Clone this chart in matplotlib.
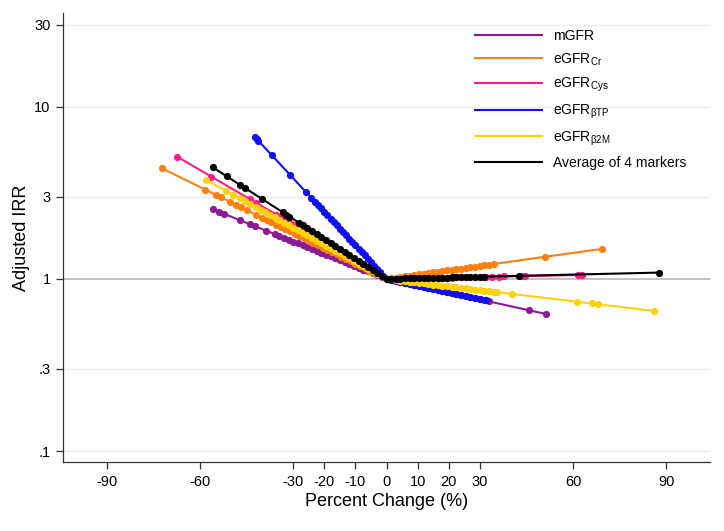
import matplotlib
matplotlib.use("Agg")
import matplotlib.pyplot as plt
from matplotlib.ticker import FixedLocator, FixedFormatter, NullLocator

plt.rcParams['font.family'] = ['Liberation Sans', 'DejaVu Sans']
plt.rcParams['mathtext.fontset'] = 'custom'
plt.rcParams['mathtext.rm'] = 'Liberation Sans'
plt.rcParams['mathtext.it'] = 'Liberation Sans:italic'
plt.rcParams['axes.unicode_minus'] = False

# ---------------- data ----------------
labels = ["mGFR", r"eGFR$_{\mathrm{Cr}}$", r"eGFR$_{\mathrm{Cys}}$",
          r"eGFR$_{\mathrm{βTP}}$", r"eGFR$_{\mathrm{β2M}}$", "Average of 4 markers"]
colors = ["#8B1A96", "#FF8011", "#FF1C8A", "#1010F0", "#FFD20A", "#000000"]

mgfr_x = [-55.9, -54.0, -52.4, -47.2, -44.0, -42.4, -38.7, -36.0, -34.5, -33, -31.5, -30, -28.5,
          -27, -25.5, -24, -22.5, -21, -19.5, -18, -16.5, -15, -13.5, -12, -10.5, -9, -7.5, -6,
          -4.5, -3, -1.5, 0, 1.5, 3, 4.5, 6, 7.5, 9, 10.5, 12, 13.5, 15, 16.5, 18, 19.5, 21, 22.5,
          24, 25.5, 27, 28.5, 30, 31.5, 33, 45.7, 51.3]
mgfr_y = [2.540, 2.460, 2.395, 2.196, 2.083, 2.028, 1.906, 1.823, 1.777, 1.734, 1.691, 1.649,
          1.608, 1.568, 1.530, 1.492, 1.455, 1.419, 1.384, 1.350, 1.317, 1.284, 1.252, 1.221,
          1.191, 1.162, 1.133, 1.105, 1.078, 1.051, 1.025, 1.0, 0.9864, 0.9730, 0.9597, 0.9467,
          0.9337, 0.9211, 0.9085, 0.8962, 0.8839, 0.8720, 0.8602, 0.8484, 0.8369, 0.8253, 0.8142,
          0.8030, 0.7922, 0.7813, 0.7707, 0.7602, 0.7498, 0.7396, 0.6585, 0.6256]

cr_x = [-72.3, -58.3, -54.9, -53.3, -50.4, -48.3, -46.7, -45.0, -41.9, -40, -38.5, -37, -35.5,
        -34, -32.5, -31, -29.5, -28, -26.5, -25, -23.5, -22, -20.5, -19, -17.5, -16, -14.5, -13,
        -11.5, -10, -8.5, -7, -5.5, -4, -2.5, -1, 0, 1.5, 3, 4.5, 6, 7.5, 9, 10.5, 12, 13.5, 15,
        16.5, 18, 19.5, 21, 22.5, 24, 25.5, 27, 28.5, 30, 31.5, 33, 34.5, 50.9, 69.2]
cr_y = [4.401, 3.303, 3.081, 2.982, 2.809, 2.691, 2.604, 2.514, 2.360, 2.270, 2.201, 2.135,
        2.070, 2.007, 1.946, 1.887, 1.830, 1.775, 1.721, 1.669, 1.618, 1.569, 1.522, 1.476,
        1.431, 1.388, 1.346, 1.305, 1.266, 1.227, 1.190, 1.154, 1.119, 1.085, 1.053, 1.021,
        1.0, 1.0087, 1.0176, 1.0265, 1.0354, 1.0445, 1.0536, 1.0628, 1.0721, 1.0814, 1.0909,
        1.1004, 1.1100, 1.1197, 1.1295, 1.1394, 1.1493, 1.1594, 1.1695, 1.1797, 1.1900, 1.2004,
        1.2109, 1.2215, 1.3437, 1.4940]

cys_x = [-67.2, -56.3, -44.0, -41.9, -35.4, -34, -32.5, -31, -29.5, -28, -26.5, -25, -23.5, -22,
         -20.5, -19, -17.5, -16, -14.5, -13, -11.5, -10, -8.5, -7, -5.5, -4, -2.5, -1, 0, 1.5, 3,
         4.5, 6, 7.5, 9, 10.5, 12, 13.5, 15, 16.5, 18, 19.5, 21, 22.5, 23.8, 25.4, 28.6, 31.9,
         34.0, 36.1, 37.7, 43.6, 44.5, 61.5, 63.0]
cys_y = [5.117, 3.926, 2.912, 2.767, 2.363, 2.284, 2.203, 2.124, 2.048, 1.974, 1.904, 1.835,
         1.769, 1.707, 1.645, 1.586, 1.530, 1.475, 1.422, 1.371, 1.322, 1.275, 1.229, 1.186,
         1.143, 1.102, 1.063, 1.025, 1.0, 1.0013, 1.0026, 1.0039, 1.0052, 1.0065, 1.0078, 1.0091,
         1.0104, 1.0117, 1.0130, 1.0143, 1.0156, 1.0169, 1.0183, 1.0196, 1.0207, 1.0221, 1.0249,
         1.0278, 1.0297, 1.0315, 1.0330, 1.0382, 1.0390, 1.0544, 1.0557]

btp_x = [-42.3, -41.7, -41.2, -36.9, -31.0, -25.8, -24.2, -23, -22, -21, -20, -19, -18, -17, -16,
         -15, -14, -13, -12, -11, -10, -9, -8, -7, -6, -5, -4, -3, -2, -1, 0, 1.5, 3, 4.5, 6, 7.5,
         9, 10.5, 12, 13.5, 15, 16.5, 18, 19.5, 21, 22.5, 24, 25.5, 27, 28.5, 30, 31.9]
btp_y = [6.668, 6.493, 6.350, 5.233, 4.018, 3.181, 2.961, 2.805, 2.683, 2.566, 2.453, 2.345,
         2.242, 2.144, 2.050, 1.960, 1.874, 1.791, 1.713, 1.638, 1.566, 1.497, 1.431, 1.369,
         1.309, 1.251, 1.196, 1.144, 1.094, 1.046, 1.0, 0.9867, 0.9736, 0.9606, 0.9478, 0.9352,
         0.9228, 0.9105, 0.8984, 0.8864, 0.8746, 0.8629, 0.8514, 0.8401, 0.8289, 0.8179, 0.8070,
         0.7962, 0.7856, 0.7752, 0.7648, 0.7519]

b2m_x = [-57.9, -51.7, -49.3, -47.2, -45.6, -44.0, -42, -40.5, -39, -37.5, -36, -34.5, -33,
         -31.5, -30, -28.5, -27, -25.5, -24, -22.5, -21, -19.5, -18, -16.5, -15, -13.5, -12,
         -10.5, -9, -7.5, -6, -4.5, -3, -1.5, 0, 1.5, 3, 4.5, 6, 7.5, 9, 10.5, 12, 13.5, 15, 16.5,
         18, 19.5, 21, 22.5, 24, 25.5, 27, 28.5, 30, 31.5, 33, 34.5, 35.5, 40.4, 61.4, 66.0,
         68.0, 86.0]
b2m_y = [3.748, 3.253, 3.081, 2.937, 2.830, 2.729, 2.608, 2.520, 2.435, 2.353, 2.274, 2.197,
         2.123, 2.052, 1.983, 1.916, 1.851, 1.789, 1.729, 1.671, 1.615, 1.561, 1.508, 1.457,
         1.408, 1.361, 1.315, 1.271, 1.228, 1.187, 1.147, 1.108, 1.071, 1.035, 1.0, 0.9926,
         0.9852, 0.9779, 0.9706, 0.9634, 0.9562, 0.9491, 0.9421, 0.9351, 0.9282, 0.9213, 0.9145,
         0.9077, 0.9009, 0.8942, 0.8876, 0.8810, 0.8744, 0.8679, 0.8614, 0.8550, 0.8487, 0.8424,
         0.8382, 0.8181, 0.7370, 0.7203, 0.7131, 0.6521]

avg_x = [-55.8, -51.3, -47.2, -45.4, -39.9, -33.3, -32.2, -31.2, -28.2, -27, -25.5, -24, -22.5,
         -21, -19.5, -18, -16.5, -15, -13.5, -12, -10.5, -9, -7.5, -6, -4.5, -3, -1.5, 0, 1.5, 3,
         4.5, 6, 7.5, 9, 10.5, 12, 13.5, 15, 16.5, 18, 19.5, 21, 22.5, 24, 25.5, 27, 28.5, 30,
         31.5, 42.5, 87.6]
avg_y = [4.439, 3.936, 3.528, 3.363, 2.903, 2.434, 2.363, 2.301, 2.124, 2.057, 1.976, 1.898,
         1.824, 1.752, 1.683, 1.617, 1.554, 1.493, 1.434, 1.378, 1.324, 1.272, 1.222, 1.174,
         1.128, 1.083, 1.041, 1.0, 1.0015, 1.0029, 1.0044, 1.0058, 1.0073, 1.0087, 1.0102,
         1.0117, 1.0131, 1.0146, 1.0161, 1.0176, 1.0190, 1.0205, 1.0220, 1.0235, 1.0250, 1.0265,
         1.0279, 1.0294, 1.0309, 1.0420, 1.0884]

series_x = [mgfr_x, cr_x, cys_x, btp_x, b2m_x, avg_x]
series_y = [mgfr_y, cr_y, cys_y, btp_y, b2m_y, avg_y]

x_ticks = [-90, -60, -30, -20, -10, 0, 10, 20, 30, 60, 90]
y_ticks = [0.1, 0.3, 1, 3, 10, 30]
y_ticklabels = [".1", ".3", "1", "3", "10", "30"]

# ---------------- figure ----------------
fig = plt.figure(figsize=(7.24, 5.31), dpi=100)
ax = fig.add_axes([63 / 724, 1 - 462 / 531, (710 - 63) / 724, (462 - 13) / 531])

ax.set_yscale('log')
ax.set_xlim(-104, 104)
ax.set_ylim(0.0865, 35.0)

grid_color = "#E6EFF2"
for yv in y_ticks:
    if yv != 1:
        ax.axhline(yv, color=grid_color, lw=1.0, zorder=0)
ax.axhline(1, color="#BDBDBD", lw=1.3, zorder=1)

for i, (xs, ys) in enumerate(zip(series_x, series_y)):
    ax.plot(xs, ys, color=colors[i], lw=1.5, marker='o', markersize=5.2,
            markeredgewidth=0, label=labels[i], zorder=2 + i)

ax.xaxis.set_major_locator(FixedLocator(x_ticks))
ax.xaxis.set_minor_locator(NullLocator())
ax.yaxis.set_major_locator(FixedLocator(y_ticks))
ax.yaxis.set_major_formatter(FixedFormatter(y_ticklabels))
ax.yaxis.set_minor_locator(NullLocator())
ax.tick_params(axis='both', which='major', direction='out', length=5, width=0.9,
               color="#333333", labelsize=10.5, pad=4)

for s in ['top', 'right']:
    ax.spines[s].set_visible(False)
for s in ['left', 'bottom']:
    ax.spines[s].set_color("#333333")
    ax.spines[s].set_linewidth(0.9)

ax.set_xlabel("Percent Change (%)", fontsize=13, labelpad=3)
ax.set_ylabel("Adjusted IRR", fontsize=13)
ax.yaxis.set_label_coords((30 - 63) / 647, 0.5)

handles = [plt.Line2D([0], [0], color=c, lw=1.5) for c in colors]
leg = ax.legend(handles, labels, loc='upper left',
                bbox_to_anchor=(475 / 724, 1 - 29 / 531), bbox_transform=fig.transFigure,
                frameon=False, fontsize=10, handlelength=4.8, handletextpad=0.8,
                labelspacing=0.6, borderpad=0, borderaxespad=0)

fig.savefig("out.png", dpi=100, facecolor='white')
